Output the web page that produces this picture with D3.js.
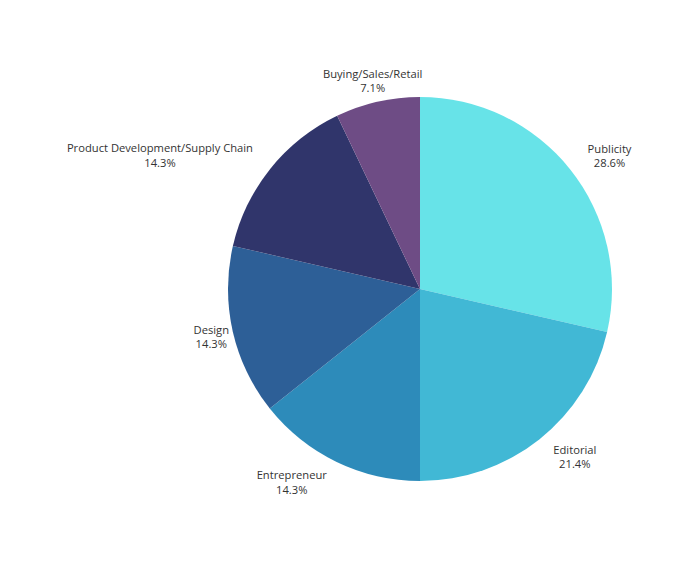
<!DOCTYPE html>
<html>
<head>
<meta charset="utf-8">
<script src="https://cdn.jsdelivr.net/npm/d3@7"></script>
<style>
  body { margin: 0; background: #fff; }
  text { font-family: "Open Sans", sans-serif; font-size: 11.2px; fill: #333; }
</style>
</head>
<body>
<script>
// slices, clockwise from 12 o'clock
var categories = ["Publicity", "Editorial", "Entrepreneur", "Design", "Product Development/Supply Chain", "Buying/Sales/Retail"];
var values = [28.6, 21.4, 14.3, 14.3, 14.3, 7.1];
var colors = ["#67e3e8", "#41b8d5", "#2d8bba", "#2d5f97", "#30356b", "#6e4c85"];

var width = 700, height = 562;
var cx = 420, cy = 289;
var radius = 192;
var labelRadius = 214;

var svg = d3.select("body").append("svg")
    .attr("width", width)
    .attr("height", height);

var g = svg.append("g")
    .attr("transform", "translate(" + cx + "," + cy + ")");

var data = categories.map(function(c, i) {
    return { name: c, value: values[i], color: colors[i] };
});

var pie = d3.pie()
    .value(function(d) { return d.value; })
    .sort(null);

var arc = d3.arc()
    .innerRadius(0)
    .outerRadius(radius);

var arcs = pie(data);

g.selectAll("path.slice")
    .data(arcs)
    .enter()
    .append("path")
    .attr("class", "slice")
    .attr("d", arc)
    .attr("fill", function(d) { return d.data.color; });

function side(d) {
    var s = Math.sin((d.startAngle + d.endAngle) / 2);
    if (Math.abs(s) < 0.3 || Math.abs(s) > 0.95) return 0;
    return s > 0 ? 1 : -1;
}

// labels sit just outside the rim at each slice's mid angle,
// two centred lines, block pushed out to the side
var labels = g.selectAll("text.label")
    .data(arcs)
    .enter()
    .append("text")
    .attr("class", "label")
    .attr("text-anchor", "middle")
    .attr("transform", function(d) {
        var a = (d.startAngle + d.endAngle) / 2;
        var x = labelRadius * Math.sin(a);
        var y = -labelRadius * Math.cos(a);
        return "translate(" + x + "," + y + ")";
    });

labels.append("tspan")
    .attr("x", 0)
    .attr("dy", "-0.25em")
    .text(function(d) { return d.data.name; });

labels.append("tspan")
    .attr("x", 0)
    .attr("dy", "1.3em")
    .text(function(d) { return d.data.value.toFixed(1) + "%"; });

labels.each(function(d) {
    var w = this.getBBox().width;
    var off = side(d) * w / 2;
    d3.select(this).selectAll("tspan").attr("x", off);
});
</script>
</body>
</html>
